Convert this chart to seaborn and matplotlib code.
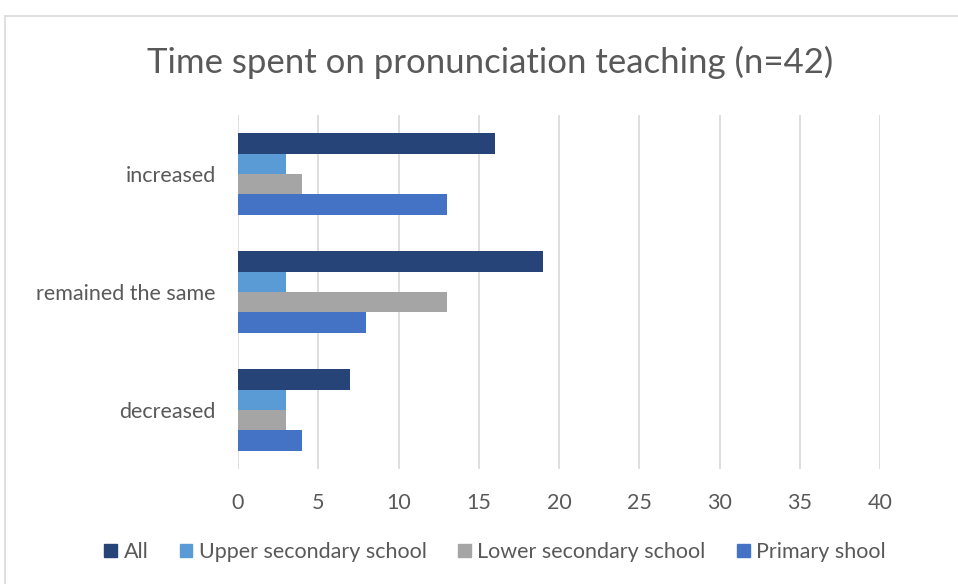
import matplotlib
matplotlib.use("Agg")
import matplotlib.pyplot as plt
from matplotlib.patches import Rectangle
import seaborn as sns
import pandas as pd

categories = ["increased", "remained the same", "decreased"]
series = ["All", "Upper secondary school", "Lower secondary school", "Primary shool"]
all_vals = [16, 19, 7]
upper_vals = [3, 3, 3]
lower_vals = [4, 13, 3]
primary_vals = [13, 8, 4]
x_ticks = [0, 5, 10, 15, 20, 25, 30, 35, 40]
title = "Time spent on pronunciation teaching (n=42)"

colors = ["#264478", "#5B9BD5", "#A5A5A5", "#4472C4"]

rows = []
for name, vals in zip(series, [all_vals, upper_vals, lower_vals, primary_vals]):
    for cat, v in zip(categories, vals):
        rows.append({"category": cat, "series": name, "value": v})
df = pd.DataFrame(rows)

sns.set_theme(style="white")
plt.rcParams["font.family"] = ["Lato", "DejaVu Sans"]
text_color = "#595959"

fig = plt.figure(figsize=(9.58, 5.84), dpi=100)
ax = fig.add_axes([238 / 958, 1 - 469 / 584, (880 - 238) / 958, (469 - 115) / 584])

sns.barplot(data=df, x="value", y="category", hue="series",
            order=categories, hue_order=series, palette=colors,
            width=0.69, ax=ax, legend=False, saturation=1, edgecolor="none")

ax.set_xlim(0, 40)
ax.set_xticks(x_ticks)
ax.set_xticklabels([str(t) for t in x_ticks])
ax.set_xlabel("")
ax.set_ylabel("")
ax.grid(axis="x", color="#D9D9D9", linewidth=1.2)
ax.set_axisbelow(True)
for s in ax.spines.values():
    s.set_visible(False)
ax.tick_params(axis="x", length=0, pad=17, labelsize=15.5, labelcolor=text_color)
ax.tick_params(axis="y", length=0, pad=16, labelsize=15.5, labelcolor=text_color)

fig.text(490 / 958, 1 - 62 / 584, title, ha="center", va="center",
         fontsize=25, color=text_color)

handles = [Rectangle((0, 0), 1, 1, color=c) for c in colors]
fig.legend(handles, series, loc="center", bbox_to_anchor=(495 / 958, 1 - 552 / 584),
           ncol=4, frameon=False, handlelength=0.6, handleheight=0.6,
           handletextpad=0.3, columnspacing=1.45, fontsize=15.5, labelcolor=text_color)

# chart frame
fig.patches.append(Rectangle((5 / 958, -0.1), 1.2, 1 - 16 / 584 + 0.1,
                             transform=fig.transFigure, fill=False,
                             edgecolor="#D9D9D9", linewidth=1.2))

fig.savefig("out.png", dpi=100, facecolor="white")
